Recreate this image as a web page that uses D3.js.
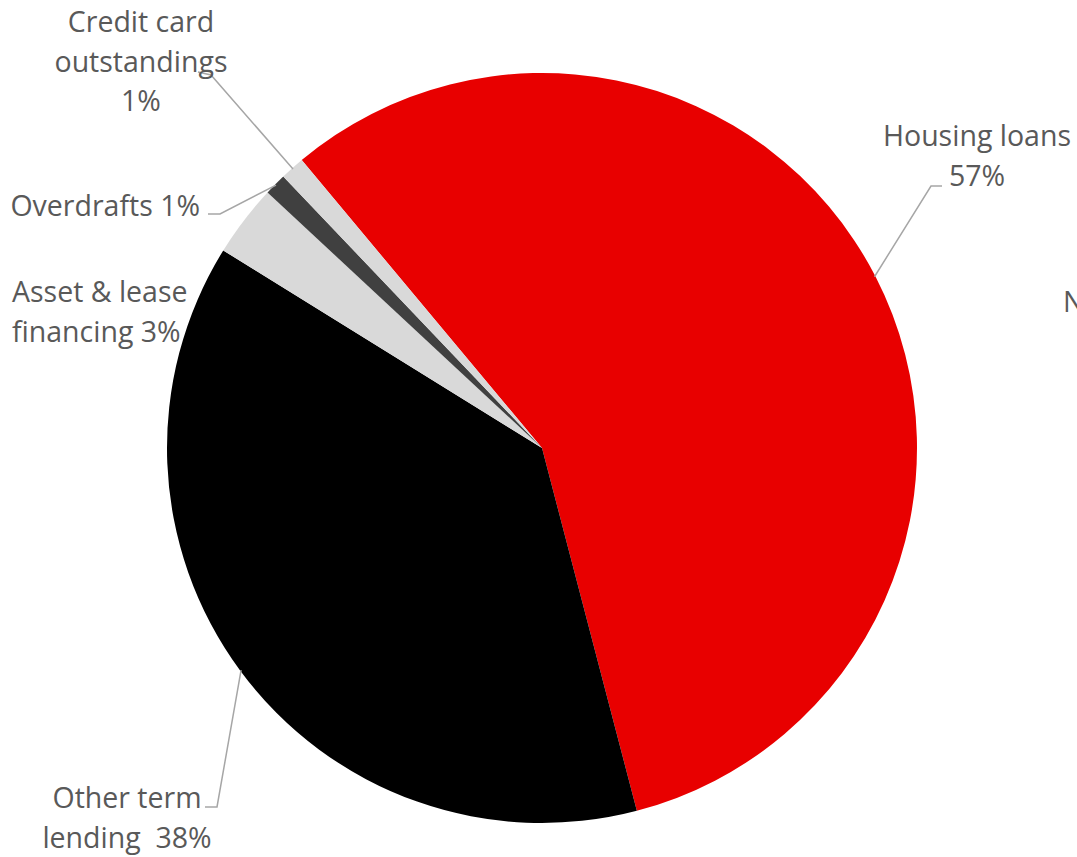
<!DOCTYPE html>
<html><head><meta charset="utf-8">
<script src="https://cdn.jsdelivr.net/npm/d3@7"></script>
<style>body{margin:0;background:#fff;overflow:hidden}svg{display:block}text{white-space:pre}</style>
</head><body>
<svg id="c" width="1077" height="857"></svg>
<script>
// ---- data ----
const categories = ["Housing loans", "Other term lending", "Asset & lease financing", "Overdrafts", "Credit card outstandings"];
const values = [57.0, 37.9, 3.1, 0.95, 1.05];
const labelLines = [
  ["Housing loans", "57%"],
  ["Other term", "lending  38%"],
  ["Asset & lease", "financing 3%"],
  ["Overdrafts 1%"],
  ["Credit card", "outstandings", "1%"]
];
const colors = ["#e80000", "#000000", "#d9d9d9", "#404040", "#d9d9d9"];
const cutOffText = ["N"];

// ---- layout ----
const W = 1077, H = 857;
const cx = 542, cy = 448, R = 375;
const startDeg = -39.85;
const labelPos = [
  {x: 977, y: 146, anchor: "middle", lead: [942, 186, 931, 186]},
  {x: 127, y: 808, anchor: "middle", lead: [205, 807, 217, 807]},
  {x: 12,  y: 302, anchor: "start",  lead: null},
  {x: 200, y: 216, anchor: "end",    lead: [208, 214, 220, 214]},
  {x: 141, y: 32,  anchor: "middle", lead: [198, 72, 211, 75]}
];
const lineH = 39.5;
const fontFam = "'Source Sans Pro', 'Open Sans', Lato, sans-serif";
const fontSize = 28.5;
const textColor = "#595959";
const leadColor = "#a6a6a6";

const svg = d3.select("#c");
const g = svg.append("g").attr("transform", `translate(${cx},${cy})`);

const data = categories.map((c, i) => ({name: c, value: values[i], i}));
const a0 = startDeg * Math.PI / 180;
const pie = d3.pie().sort(null).value(d => d.value).startAngle(a0).endAngle(a0 + 2 * Math.PI);
const arc = d3.arc().innerRadius(0).outerRadius(R);
const arcs = pie(data);

g.selectAll("path.slice").data(arcs).enter().append("path")
  .attr("class", "slice")
  .attr("d", arc)
  .attr("fill", d => colors[d.data.i]);

// leader lines
arcs.forEach((d, i) => {
  const L = labelPos[i];
  if (!L.lead) return;
  const mid = (d.startAngle + d.endAngle) / 2;
  const px = cx + Math.sin(mid) * (R - 1);
  const py = cy - Math.cos(mid) * (R - 1);
  svg.append("polyline")
    .attr("points", `${L.lead[0]},${L.lead[1]} ${L.lead[2]},${L.lead[3]} ${px},${py}`)
    .attr("fill", "none").attr("stroke", leadColor).attr("stroke-width", 1.5);
});

// labels
arcs.forEach((d, i) => {
  const L = labelPos[i];
  const t = svg.append("text")
    .attr("x", L.x).attr("y", L.y)
    .attr("text-anchor", L.anchor)
    .attr("font-family", fontFam).attr("font-size", fontSize)
    .attr("fill", textColor);
  labelLines[i].forEach((s, k) => {
    t.append("tspan").attr("x", L.x).attr("y", L.y + k * lineH).text(s);
  });
});

// partially visible neighbouring text on right edge
svg.append("text").attr("x", 1063).attr("y", 312)
  .attr("font-family", fontFam).attr("font-size", fontSize)
  .attr("fill", textColor).text(cutOffText[0]);
</script>
</body></html>
